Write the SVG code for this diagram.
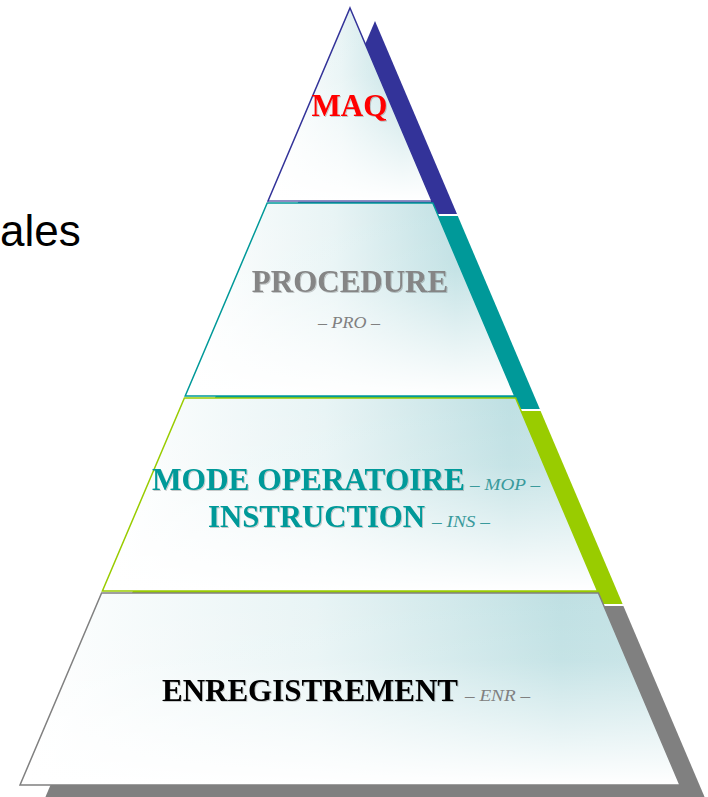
<svg xmlns="http://www.w3.org/2000/svg" width="708" height="797" viewBox="0 0 708 797">
  <defs>
    <!-- soft teal tint on the right, white on the left -->
    <linearGradient id="tintH" x1="0" y1="0" x2="1" y2="0">
      <stop offset="0" stop-color="#ffffff"/>
      <stop offset="0.45" stop-color="#e8f4f5"/>
      <stop offset="0.82" stop-color="#bfe0e3"/>
      <stop offset="1" stop-color="#c6e3e6"/>
    </linearGradient>
    <!-- fade to white toward the bottom of each tier -->
    <linearGradient id="fadeV" x1="0" y1="0" x2="0" y2="1">
      <stop offset="0" stop-color="#ffffff" stop-opacity="0"/>
      <stop offset="0.35" stop-color="#ffffff" stop-opacity="0.1"/>
      <stop offset="1" stop-color="#ffffff" stop-opacity="1"/>
    </linearGradient>
    <filter id="txtShadow" x="-5%" y="-20%" width="110%" height="150%">
      <feDropShadow dx="1" dy="1" stdDeviation="0.6" flood-color="#000000" flood-opacity="0.2"/>
    </filter>
  </defs>
  <style>
    .tint { fill: url(#tintH); }
    .fade { fill: url(#fadeV); stroke-width: 1.5; stroke-linejoin: miter; }
    .title { font-family: "Liberation Serif", "Times New Roman", serif; font-weight: bold; font-size: 31px; filter: url(#txtShadow); }
    .tag { font-family: "Liberation Serif", "Times New Roman", serif; font-style: italic; font-size: 17px; }
    .side { font-family: "Liberation Sans", Arial, sans-serif; font-size: 44px; fill: #000000; }
  </style>

  <!-- partial caption on the left edge -->
  <text class="side" x="0" y="246">ales</text>

  <!-- tier 1: MAQ -->
  <g id="tier-maq">
    <polygon points="375,21 457,214 293,214" fill="#333399"/>
    <polygon class="tint" points="350,8 432,201 268,201"/>
    <polygon class="fade" points="350,8 432,201 268,201" stroke="#333399"/>
    <line x1="269" y1="201" x2="431" y2="201" stroke="#9a9ac8" stroke-width="1.5"/>
    <text class="title" x="349.5" y="116" text-anchor="middle" fill="#ff0000">MAQ</text>
  </g>

  <!-- tier 2: PROCEDURE -->
  <g id="tier-procedure">
    <polygon points="292.2,216 457.8,216 539.8,409 210.2,409" fill="#009999"/>
    <polygon class="tint" points="267.2,203 432.8,203 514.8,396 185.2,396"/>
    <polygon class="fade" points="267.2,203 432.8,203 514.8,396 185.2,396" stroke="#009999"/>
    <text class="title" x="350" y="292" text-anchor="middle" fill="#858585">PROCEDURE</text>
    <text class="tag" x="349" y="328" text-anchor="middle" fill="#808080" textLength="62" lengthAdjust="spacingAndGlyphs">– PRO –</text>
  </g>

  <!-- tier 3: MODE OPERATOIRE / INSTRUCTION -->
  <g id="tier-mop-ins">
    <polygon points="209.4,411 540.6,411 622.6,604 127.4,604" fill="#99cc00"/>
    <polygon class="tint" points="184.4,398 515.6,398 597.6,591 102.4,591"/>
    <polygon class="fade" points="184.4,398 515.6,398 597.6,591 102.4,591" stroke="#99cc00"/>
    <text class="title" x="152" y="490" fill="#009999" textLength="313" lengthAdjust="spacingAndGlyphs">MODE OPERATOIRE</text>
    <text class="tag" x="470" y="490" fill="#3a9a9c" textLength="70" lengthAdjust="spacingAndGlyphs">– MOP –</text>
    <text class="title" x="208" y="527" fill="#009999" textLength="217" lengthAdjust="spacingAndGlyphs">INSTRUCTION</text>
    <text class="tag" x="432" y="527" fill="#3a9a9c" textLength="58" lengthAdjust="spacingAndGlyphs">– INS –</text>
  </g>

  <!-- tier 4: ENREGISTREMENT -->
  <g id="tier-enr">
    <polygon points="126.6,606 623.4,606 705,798 45,798" fill="#808080"/>
    <polygon class="tint" points="101.6,593 598.4,593 680,785 20,785"/>
    <polygon class="fade" points="101.6,593 598.4,593 680,785 20,785" stroke="#808080"/>
    <text class="title" x="162" y="701" fill="#000000" textLength="296" lengthAdjust="spacingAndGlyphs">ENREGISTREMENT</text>
    <text class="tag" x="465" y="701" fill="#808080" textLength="65" lengthAdjust="spacingAndGlyphs">– ENR –</text>
  </g>
</svg>
